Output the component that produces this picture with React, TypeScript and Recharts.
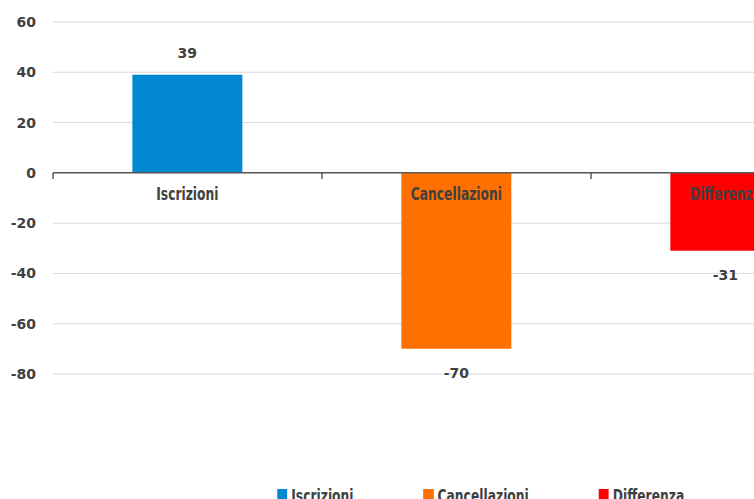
import React from 'react';
import {
  BarChart,
  Bar,
  XAxis,
  YAxis,
  CartesianGrid,
  ReferenceLine,
  LabelList,
  Cell,
  Legend,
} from 'recharts';

// Registrations, cancellations and their balance
const categories = ['Iscrizioni', 'Cancellazioni', 'Differenza'];
const values = [39, -70, -31];
const colors = ['#0288D1', '#FF7000', '#FF0000'];
const yTicks = [-80, -60, -40, -20, 0, 20, 40, 60];

const data = categories.map((name, i) => ({ name, value: values[i] }));

const NARROW = "'Liberation Sans Narrow', 'Arial Narrow', 'DejaVu Sans Condensed', sans-serif";
const NUM = "'DejaVu Sans', Verdana, sans-serif";
const TEXT_COLOR = '#404040';
// horizontal squeeze giving the condensed look of the category captions
const SQUEEZE = 0.76;

const CHART_W = 962;
const CHART_H = 500;

const barEdges = (props: any) => {
  const y = Number(props.y);
  const h = Number(props.height);
  return { top: Math.min(y, y + h), bottom: Math.max(y, y + h) };
};

const ValueLabel = (props: any) => {
  const { x, width, value } = props;
  const { top, bottom } = barEdges(props);
  const cx = Number(x) + Number(width) / 2;
  const ty = value >= 0 ? top - 17 : bottom + 29;
  return (
    <text x={cx} y={ty} textAnchor="middle" fontFamily={NUM} fontWeight="bold" fontSize={14} fill={TEXT_COLOR}>
      {value}
    </text>
  );
};

const CategoryLabel = (props: any) => {
  const { x, width, value, index } = props;
  const { top, bottom } = barEdges(props);
  const zero = values[index] >= 0 ? bottom : top;
  const cx = Number(x) + Number(width) / 2;
  return (
    <text
      transform={`translate(${cx},${zero + 27}) scale(${SQUEEZE},1)`}
      x={0}
      y={0}
      textAnchor="middle"
      fontFamily={NARROW}
      fontWeight="bold"
      fontSize={18}
      fill={TEXT_COLOR}
    >
      {value}
    </text>
  );
};

const LegendContent = () => (
  <div style={{ display: 'flex', justifyContent: 'center' }}>
    <div
      style={{
        display: 'flex',
        fontFamily: NARROW,
        fontWeight: 'bold',
        fontSize: 18,
        lineHeight: '20px',
        color: TEXT_COLOR,
        transform: `scaleX(${SQUEEZE})`,
        transformOrigin: 'center',
      }}
    >
      {categories.map((c, i) => (
        <div
          key={c}
          style={{
            display: 'flex',
            alignItems: 'flex-start',
            marginRight: i < categories.length - 1 ? 70 / SQUEEZE : 0,
          }}
        >
          <span
            style={{ width: 10 / SQUEEZE, height: 10, background: colors[i], marginTop: 3, marginRight: 4 / SQUEEZE }}
          />
          <span style={{ whiteSpace: 'nowrap' }}>{c}</span>
        </div>
      ))}
    </div>
  </div>
);

export default function App() {
  return (
    <div style={{ position: 'fixed', left: 0, top: 0, width: 754, height: 499, overflow: 'hidden', background: '#fff' }}>
      <BarChart
        width={CHART_W}
        height={CHART_H}
        data={data}
        margin={{ top: 22, right: 102, bottom: 126, left: 0 }}
        barCategoryGap="29.5%"
      >
        <CartesianGrid horizontal vertical={false} stroke="#d9d9d9" strokeWidth={1} />
        <XAxis dataKey="name" hide />
        <YAxis
          width={53}
          domain={[-80, 60]}
          ticks={yTicks}
          interval={0}
          axisLine={false}
          tickLine={false}
          tickSize={6}
          tickMargin={11}
          tick={{ fontFamily: NUM, fontWeight: 'bold', fontSize: 14, fill: TEXT_COLOR }}
        />
        <Legend verticalAlign="middle" content={<LegendContent />} wrapperStyle={{ top: 486, left: 0, width: CHART_W }} />
        <Bar dataKey="value" isAnimationActive={false}>
          {data.map((d, i) => (
            <Cell key={d.name} fill={colors[i]} />
          ))}
          <LabelList dataKey="value" content={<ValueLabel />} />
          <LabelList dataKey="name" content={<CategoryLabel />} />
        </Bar>
        <ReferenceLine y={0} stroke="#595959" strokeWidth={1.5} />
        {categories.map((c) => (
          <ReferenceLine
            key={c}
            position="start"
            segment={[
              { x: c, y: 0 },
              { x: c, y: -2.4 },
            ]}
            stroke="#595959"
            strokeWidth={1.5}
          />
        ))}
      </BarChart>
    </div>
  );
}
